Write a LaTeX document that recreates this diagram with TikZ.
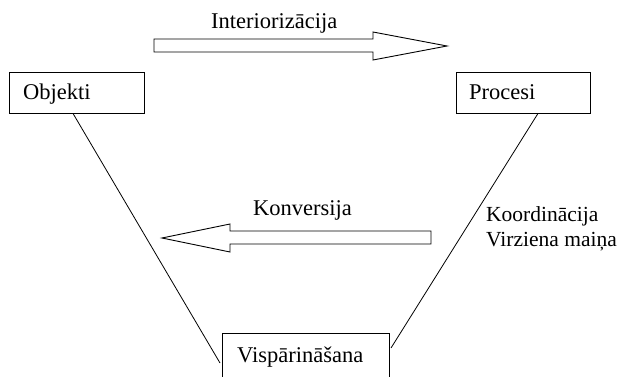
\documentclass[tikz,border=0pt]{standalone}
\usepackage{fontspec}
\setmainfont{Liberation Serif}
\begin{document}
\begin{tikzpicture}[x=1pt,y=-1pt,
  box/.style={draw=black,line width=0.9pt,inner sep=0pt,minimum width=#1,minimum height=41pt},
  lbl/.style={anchor=base west,inner sep=0pt,font=\fontsize{22.5}{27}\selectfont},
  lblsm/.style={anchor=base west,inner sep=0pt,font=\fontsize{21.5}{26}\selectfont},
  conn/.style={line width=0.8pt},
  bigarrow/.style={draw=black,line width=0.9pt,line join=miter}]
\clip (0,0) rectangle (619,377);
\fill[white] (0,0) rectangle (619,377);
% boxes
\node[box=135pt] (obj) at (76.5,92.5) {};
\node[box=134pt] (proc) at (523,92.5) {};
\node[box=167pt,minimum height=80pt] (visp) at (305.5,373) {};
% labels
\node[lbl] (tobj) at (23,100) {Objekti};
\node[lbl] (tproc) at (469,100) {Procesi};
\node[lbl] (tvisp) at (237,362) {Vispārināšana};
\node[lbl] (tint) at (211,29) {Interiorizācija};
\node[lbl] (tkon) at (253,215) {Konversija};
\node[lblsm] (tkoo) at (486,222) {Koordinācija};
\node[lblsm] (tvir) at (486,247) {Virziena maiņa};
% connectors
\coordinate (l1) at (obj.south -| 73,0);
\coordinate (l2) at (220,363);
\coordinate (r1) at (proc.south -| 538,0);
\coordinate (r2) at (391,348);
\draw[conn] (l1) -- (l2);
\draw[conn] (r1) -- (r2);
% block arrows
\draw[bigarrow] (154,39) -- (373,39) -- (373,32) -- (447,46) -- (373,60) -- (373,52) -- (154,52) -- cycle;
\draw[bigarrow] (431,231) -- (230,231) -- (230,224) -- (162,238) -- (230,252) -- (230,244) -- (431,244) -- cycle;
\end{tikzpicture}
\end{document}
